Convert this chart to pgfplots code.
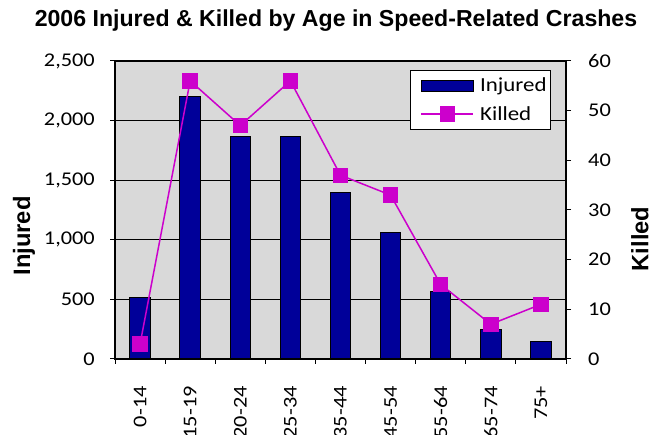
\documentclass[border=0pt]{standalone}
\usepackage{pgfplots}
\pgfplotsset{compat=1.18}
\usepackage{fontspec}
\setmainfont{Carlito}
\newfontfamily\tickfont[FakeStretch=1.15]{Carlito}
\newfontfamily\arialfont{Liberation Sans}
\definecolor{plotgray}{HTML}{D9D9D9}
\definecolor{barnavy}{HTML}{000099}
\definecolor{killmag}{HTML}{CC00CC}
\newcommand{\tf}{\tickfont\fontsize{19.5}{20}\selectfont}
\newcommand{\lf}{\tickfont\fontsize{20}{20}\selectfont}
\newcommand{\af}{\arialfont\bfseries\fontsize{23.8}{24}\selectfont}
\newcommand{\ttf}{\arialfont\bfseries\fontsize{23.2}{24}\selectfont}
\pgfplotsset{
  lineimg/.style={legend image code/.code={\path (-8bp,0bp); \draw[##1, mark repeat=2, mark phase=2] plot coordinates {(0bp,0bp) (26bp,0bp) (52bp,0bp)};}},
  barimg/.style={legend image code/.code={\path (-8bp,0bp); \draw[fill=barnavy, draw=black, line width=1bp] (0bp,-5.5bp) rectangle (52bp,5.5bp);}},
}
\begin{document}
\begin{tikzpicture}[x=1bp,y=1bp]
\path[use as bounding box, clip] (0,0) rectangle (665,435);
\begin{axis}[
  at={(115bp,76bp)}, anchor=south west,
  width=451bp, height=298bp, scale only axis,
  xmin=-0.5, xmax=8.5, ymin=0, ymax=2500,
  axis background/.style={fill=plotgray},
  axis line style={black, line width=1.2bp},
  xtick={0,...,8},
  xticklabels={0-14,15-19,20-24,25-34,35-44,45-54,55-64,65-74,75+},
  xtick style={draw=none},
  xticklabel style={rotate=90, anchor=east, inner sep=0pt, font=\tf},
  xticklabel shift=27bp,
  ytick={0,500,...,2500},
  ytick pos=left, ytick align=outside, major tick length=5bp,
  ytick style={black, line width=1bp},
  yticklabel style={inner sep=0pt, font=\tf},
  yticklabel shift=15bp,
  ymajorgrids, grid style={black, line width=1bp},
  /pgf/number format/.cd, 1000 sep={,}, assume math mode=true,
]
\addplot[ybar, bar width=20.5bp, fill=barnavy, draw=black, line width=1bp]
  coordinates {(0,515) (1,2200) (2,1870) (3,1868) (4,1400) (5,1065) (6,567) (7,250) (8,150)};
\end{axis}
\begin{axis}[
  at={(115bp,76bp)}, anchor=south west,
  width=451bp, height=298bp, scale only axis,
  xmin=-0.5, xmax=8.5, ymin=0, ymax=60,
  axis line style={black, line width=1.2bp},
  xtick={-0.5,0.5,...,8.5}, xticklabels={}, xtick pos=bottom, xtick align=outside,
  ytick={0,10,...,60}, ytick pos=right, yticklabel pos=right, ytick align=outside,
  major tick length=5bp, tick style={black, line width=1bp},
  yticklabel style={inner sep=0pt, anchor=west, font=\tf},
  yticklabel shift=17bp,
  legend style={at={(0.967,0.970)}, anchor=north east, draw=black, line width=1bp,
    fill=white, font=\lf, inner xsep=2bp, inner ysep=5.5bp, row sep=9bp, column sep=4bp,
    nodes={inner sep=2bp}},
  legend cell align=left,
  /pgf/number format/.cd, assume math mode=true,
]
\addlegendimage{barimg}
\addplot[killmag, line width=1.5bp, mark=square*, mark size=7.2bp,
  mark options={fill=killmag, draw=killmag, line width=0pt}, lineimg]
  coordinates {(0,3) (1,56) (2,47) (3,56) (4,37) (5,33) (6,15) (7,7) (8,11)};
\legend{Injured, Killed}
\end{axis}
\node[anchor=base, font=\ttf] at (336,408) {2006 Injured \& Killed by Age in Speed-Related Crashes};
\node[rotate=90, font=\af] at (24,199) {Injured};
\node[rotate=90, font=\af] at (640,196) {Killed};
\end{tikzpicture}
\end{document}
